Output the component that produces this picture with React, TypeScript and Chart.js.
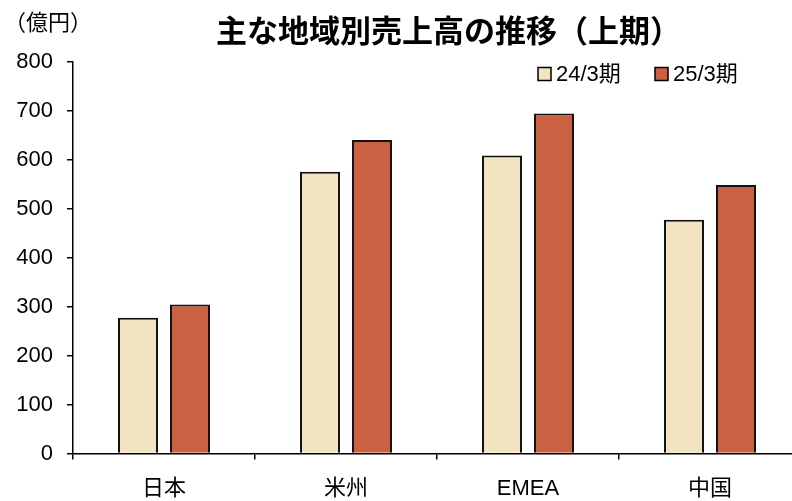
import React, { useEffect, useRef } from "react";
import { Chart, registerables } from "chart.js";

Chart.register(...registerables);

const categories = ["日本", "米州", "EMEA", "中国"];
const seriesNames = ["24/3期", "25/3期"];
const values2403 = [277, 575, 608, 477];
const values2503 = [304, 640, 694, 548];
const yMin = 0;
const yMax = 800;
const yStep = 100;
const titleText = "主な地域別売上高の推移（上期）";
const unitText = "（億円）";

const colors = ["#F2E4C0", "#CA6142"];
const NUM_FONT = '"Liberation Sans", Arial, "Noto Sans CJK JP", sans-serif';
const CJK_FONT = '"Noto Sans CJK JP", "Liberation Sans", sans-serif';

const overlayPlugin = {
  id: "overlay",
  afterDraw(chart: any) {
    const ctx = chart.ctx as CanvasRenderingContext2D;
    ctx.save();
    ctx.fillStyle = "#000";
    // title
    ctx.font = `bold 31px ${CJK_FONT}`;
    ctx.textAlign = "left";
    ctx.textBaseline = "middle";
    ctx.fillText(titleText, 216, 30);
    // unit
    ctx.font = `22px ${CJK_FONT}`;
    ctx.textAlign = "left";
    ctx.fillText(unitText, 4, 22);
    // legend
    const legendX = [538, 655];
    chart.data.datasets.forEach((ds: any, i: number) => {
      const x = legendX[i];
      const y = 74;
      ctx.fillStyle = ds.backgroundColor;
      ctx.fillRect(x, y - 6.5, 13, 13);
      ctx.strokeStyle = "#000";
      ctx.lineWidth = 1.5;
      ctx.strokeRect(x, y - 6.5, 13, 13);
      ctx.fillStyle = "#000";
      ctx.font = `22px ${NUM_FONT}`;
      ctx.textBaseline = "middle";
      ctx.fillText(ds.label, x + 18, y + 1);
    });
    ctx.restore();
  },
};

export default function App() {
  const canvasRef = useRef<HTMLCanvasElement | null>(null);

  useEffect(() => {
    if (!canvasRef.current) return;
    const chart = new Chart(canvasRef.current, {
      type: "bar",
      data: {
        labels: categories,
        datasets: [
          {
            label: seriesNames[0],
            data: values2403,
            backgroundColor: colors[0],
            borderColor: "#111",
            borderWidth: 2,
            categoryPercentage: 0.571,
            barPercentage: 0.77,
          },
          {
            label: seriesNames[1],
            data: values2503,
            backgroundColor: colors[1],
            borderColor: "#111",
            borderWidth: 2,
            categoryPercentage: 0.571,
            barPercentage: 0.77,
          },
        ],
      },
      options: {
        animation: false,
        responsive: false,
        maintainAspectRatio: false,
        layout: { padding: { top: 61.5, left: 0, right: 1, bottom: 0 } },
        plugins: {
          legend: { display: false },
          title: { display: false },
          tooltip: { enabled: false },
        },
        scales: {
          x: {
            grid: {
              display: true,
              drawOnChartArea: false,
              drawTicks: true,
              tickLength: 6,
              color: "#000",
              lineWidth: 1.5,
            },
            border: { display: true, color: "#000", width: 1.5 },
            ticks: {
              color: "#000",
              font: { family: NUM_FONT, size: 22 },
              padding: 16,
              maxRotation: 0,
            },
            afterFit: (s: any) => {
              s.height = 501 - 453.5;
            },
          },
          y: {
            min: yMin,
            max: yMax,
            grid: {
              display: true,
              drawOnChartArea: false,
              drawTicks: true,
              tickLength: 6,
              color: "#000",
              lineWidth: 1.5,
            },
            border: { display: true, color: "#000", width: 1.5 },
            ticks: {
              stepSize: yStep,
              color: "#000",
              font: { family: NUM_FONT, size: 22 },
              padding: 14,
            },
            afterFit: (s: any) => {
              s.width = 73;
            },
          },
        },
      },
      plugins: [overlayPlugin],
    });
    return () => chart.destroy();
  }, []);

  return (
    <div
      style={{
        position: "absolute",
        left: 0,
        top: 0,
        width: 792,
        height: 501,
        overflow: "hidden",
        background: "#fff",
      }}
    >
      <canvas ref={canvasRef} width={802} height={501} style={{ display: "block" }} />
    </div>
  );
}
